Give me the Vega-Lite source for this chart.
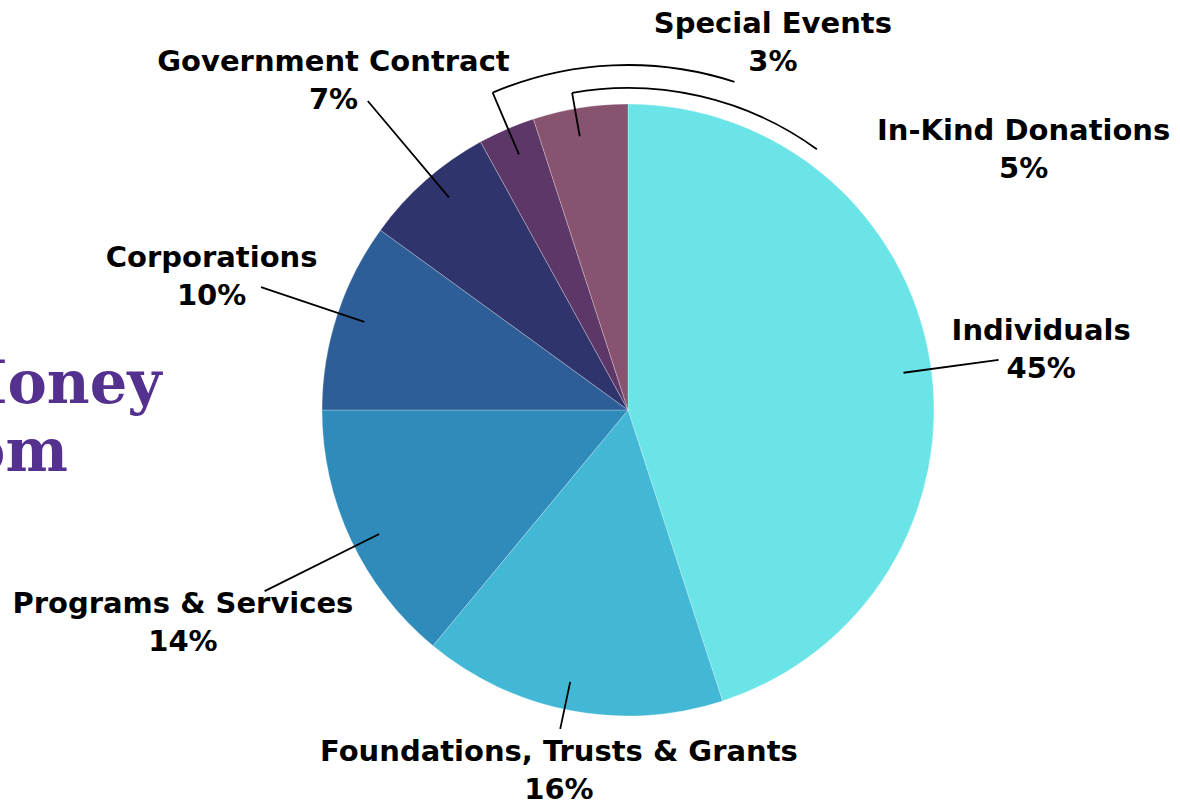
{
  "$schema": "https://vega.github.io/schema/vega-lite/v6.json",
  "width": 1104,
  "height": 796,
  "autosize": {"type": "none"},
  "padding": {"left": 76, "top": 12, "right": 0, "bottom": 0},
  "background": "#ffffff",
  "title": {
    "text": ["Where Our Money", "Comes From"],
    "anchor": "start",
    "frame": "group",
    "align": "center",
    "baseline": "alphabetic",
    "orient": "top",
    "offset": 0,
    "dx": -215,
    "dy": 520,
    "font": "DejaVu Serif",
    "fontWeight": "bold",
    "fontSize": 59,
    "lineHeight": 68,
    "color": "#55318F"
  },
  "data": {
    "values": [
      {"source": "Individuals", "share": 0.45, "order": 1},
      {"source": "Foundations, Trusts & Grants", "share": 0.16, "order": 2},
      {"source": "Programs & Services", "share": 0.14, "order": 3},
      {"source": "Corporations", "share": 0.10, "order": 4},
      {"source": "Government Contract", "share": 0.07, "order": 5},
      {"source": "Special Events", "share": 0.03, "order": 6},
      {"source": "In-Kind Donations", "share": 0.05, "order": 7}
    ]
  },
  "layer": [
    {
      "mark": {"type": "arc", "radius": 306, "stroke": "#ffffff", "strokeWidth": 0.6, "strokeOpacity": 0.45},
      "encoding": {
        "theta": {"field": "share", "type": "quantitative", "stack": true, "scale": {"domain": [0, 1]}},
        "order": {"field": "order", "type": "quantitative"},
        "color": {
          "field": "source",
          "type": "nominal",
          "legend": null,
          "scale": {
            "domain": ["Individuals", "Foundations, Trusts & Grants", "Programs & Services", "Corporations", "Government Contract", "Special Events", "In-Kind Donations"],
            "range": ["#6BE4E8", "#43B8D6", "#2E8BBA", "#2E5E98", "#30346C", "#5D3767", "#87536F"]
          }
        }
      }
    },
    {
      "mark": {"type": "arc", "radius2": 278, "filled": false, "stroke": "#000000", "strokeWidth": 1.8},
      "encoding": {
        "theta": {"field": "order", "type": "quantitative", "scale": {"type": "linear", "zero": false, "nice": false, "domain": [1, 2, 3, 4, 5, 6, 7], "range": [1.4364, 3.351, 4.2499, 5.0353, 5.5833, 5.88, 6.1087]}},
        "theta2": {"field": "order"},
        "radius": {"field": "order", "type": "quantitative", "scale": {"type": "linear", "zero": false, "nice": false, "domain": [1, 2, 3, 4, 5, 6, 7], "range": [374, 326, 406, 387, 404, 345, 322]}}
      }
    },
    {
      "transform": [{"filter": "datum.order == 6"}],
      "mark": {"type": "arc", "theta": 5.88, "theta2": 6.597, "radius": 345, "radius2": 345, "filled": false, "stroke": "#000000", "strokeWidth": 1.8},
      "encoding": {}
    },
    {
      "transform": [{"filter": "datum.order == 7"}],
      "mark": {"type": "arc", "theta": 6.1087, "theta2": 6.91, "radius": 322, "radius2": 322, "filled": false, "stroke": "#000000", "strokeWidth": 1.8},
      "encoding": {}
    },
    {
      "mark": {"type": "text", "font": "DejaVu Sans", "fontWeight": "bold", "fontSize": 29, "color": "#000000", "align": "center", "baseline": "alphabetic", "dy": -7},
      "encoding": {
        "theta": {"field": "order", "type": "quantitative", "scale": {"type": "linear", "zero": false, "nice": false, "domain": [1, 2, 3, 4, 5, 6, 7], "range": [1.419, 3.332, 4.272, 5.028, 5.558, 0.3735, 0.9844]}},
        "radius": {"field": "order", "type": "quantitative", "scale": {"type": "linear", "zero": false, "nice": false, "domain": [1, 2, 3, 4, 5, 6, 7], "range": [418, 365, 492, 438, 444, 397, 475]}},
        "text": {"field": "source", "type": "nominal"}
      }
    },
    {
      "mark": {"type": "text", "font": "DejaVu Sans", "fontWeight": "bold", "fontSize": 29, "color": "#000000", "align": "center", "baseline": "alphabetic", "dy": 31},
      "encoding": {
        "theta": {"field": "order", "type": "quantitative", "scale": {"type": "linear", "zero": false, "nice": false, "domain": [1, 2, 3, 4, 5, 6, 7], "range": [1.419, 3.332, 4.272, 5.028, 5.558, 0.3735, 0.9844]}},
        "radius": {"field": "order", "type": "quantitative", "scale": {"type": "linear", "zero": false, "nice": false, "domain": [1, 2, 3, 4, 5, 6, 7], "range": [418, 365, 492, 438, 444, 397, 475]}},
        "text": {"field": "share", "type": "quantitative", "format": ".0%"}
      }
    }
  ],
  "resolve": {"scale": {"theta": "independent", "radius": "independent", "color": "independent"}},
  "config": {"view": {"stroke": null}}
}
